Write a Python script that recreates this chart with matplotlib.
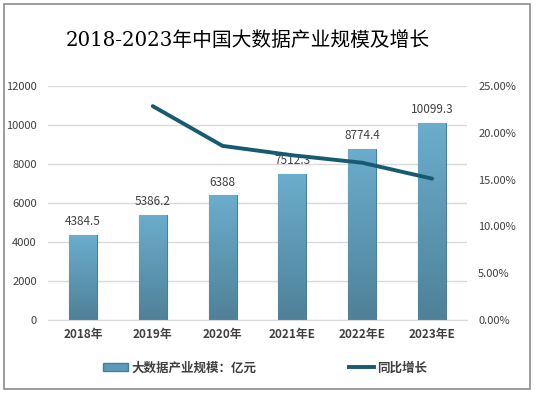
import matplotlib
matplotlib.use("Agg")
import matplotlib.pyplot as plt
import numpy as np
from matplotlib.patches import Rectangle
from matplotlib.lines import Line2D
from matplotlib.colors import LinearSegmentedColormap

plt.rcParams['font.family'] = ['Noto Sans CJK SC', 'DejaVu Sans']

categories = ["2018年", "2019年", "2020年", "2021年E", "2022年E", "2023年E"]
scale_values = [4384.5, 5386.2, 6388, 7512.3, 8774.4, 10099.3]
value_labels = ["4384.5", "5386.2", "6388", "7512.3", "8774.4", "10099.3"]
growth_categories = ["2019年", "2020年", "2021年E", "2022年E", "2023年E"]
growth_values = [0.2285, 0.1860, 0.1760, 0.1680, 0.1510]
left_ticks = [0, 2000, 4000, 6000, 8000, 10000, 12000]
right_ticks = [0, 0.05, 0.10, 0.15, 0.20, 0.25]

fig = plt.figure(figsize=(5.36, 3.93), dpi=100)
fig.patches.append(Rectangle((4/536, 4/393), 526/536, 385/393, transform=fig.transFigure,
                             fill=False, edgecolor='#8c8c8c', linewidth=1.2))

ax = fig.add_axes([48/536, (393-320)/393, 419/536, 234/393])
x = np.arange(len(categories))
bars = ax.bar(x, scale_values, width=0.4, color='#5b9ab8', edgecolor='#4a7d96',
              linewidth=0.8, zorder=2)

grad = np.linspace(0, 1, 256).reshape(-1, 1)
cmap = LinearSegmentedColormap.from_list('g', ['#4f8198', '#6badcd'])
for b in bars:
    bx, by = b.get_x(), b.get_y()
    w, h = b.get_width(), b.get_height()
    im = ax.imshow(grad, extent=(bx, bx + w, by, by + h), aspect='auto',
                   cmap=cmap, origin='lower', zorder=2.5)
    im.set_clip_path(b)

for xi, v, lab in zip(x, scale_values, value_labels):
    ax.text(xi, v + 350, lab, ha='center', va='bottom', fontsize=8.5, color='#404040')

ax.set_xlim(-0.5, len(categories) - 0.5)
ax.set_ylim(0, 12000)
ax.set_yticks(left_ticks)
ax.set_yticklabels([str(t) for t in left_ticks], fontsize=8, color='#404040')
ax.set_xticks(x)
ax.set_xticklabels(categories, fontsize=8.5, color='#404040', fontweight='bold')
ax.tick_params(axis='both', length=0, pad=6)
ax.tick_params(axis='y', pad=8)
ax.grid(axis='y', color='#d9d9d9', linewidth=1, zorder=0)
ax.set_axisbelow(True)
for s in ax.spines.values():
    s.set_visible(False)
ax.spines['bottom'].set_visible(True)
ax.spines['bottom'].set_color('#d9d9d9')

ax2 = ax.twinx()
gx = [categories.index(c) for c in growth_categories]
ax2.plot(gx, growth_values, color='#175a72', linewidth=2.8, solid_capstyle='round', zorder=3)
ax2.set_ylim(0, 0.25)
ax2.set_yticks(right_ticks)
ax2.set_yticklabels([f"{t*100:.2f}%" for t in right_ticks], fontsize=8, color='#404040')
ax2.tick_params(axis='y', length=0, pad=8)
for s in ax2.spines.values():
    s.set_visible(False)

fig.text(248/536, 1 - 40/393, "2018-2023年中国大数据产业规模及增长", ha='center', va='center',
         fontsize=14.2, color='#000000', family=['DejaVu Serif', 'Noto Sans CJK SC'])

handles = [Rectangle((0, 0), 1, 1, facecolor='#5b9ab8', edgecolor='#4a7d96'),
           Line2D([0], [0], color='#175a72', linewidth=2.8)]
leg = fig.legend(handles, ["大数据产业规模：亿元", "同比增长"], loc='center',
                 bbox_to_anchor=(265/536, 1 - 368/393), ncol=2, frameon=False,
                 fontsize=9, columnspacing=7.4, handlelength=2.0, handleheight=0.6,
                 handletextpad=0.3)
for t in leg.get_texts():
    t.set_color('#404040')
    t.set_fontweight('bold')

fig.savefig("out.png", dpi=100)
